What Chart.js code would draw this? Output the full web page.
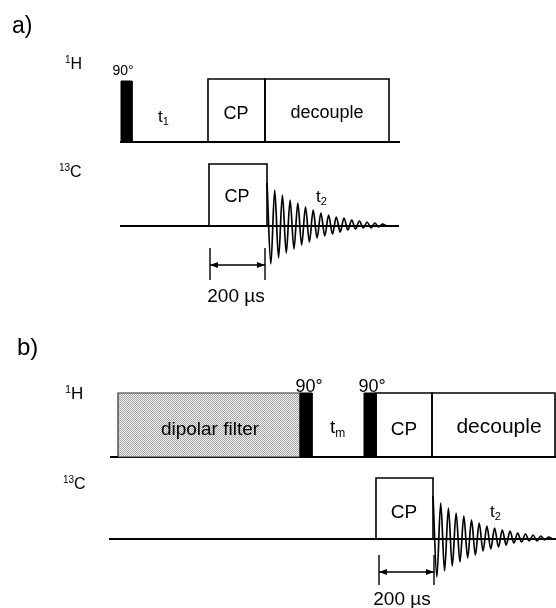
<!DOCTYPE html>
<html>
<head>
<meta charset="utf-8">
<script src="https://cdn.jsdelivr.net/npm/chart.js@4.4.0/dist/chart.umd.min.js"></script>
<style>
body{margin:0;background:#fff;}
#wrap{width:556px;height:608px;position:relative;}
</style>
</head>
<body>
<div id="wrap"><canvas id="sequence"></canvas></div>
<script>
//sequence a) : canal 1H puis 13C (debut, fin, haut)
var aH_base = 142;
var aH_line = [120, 400];
var aH_pulse = [121, 132, 81];
var aH_cp = [208, 265, 79];
var aH_dec = [265, 389, 79];
var aC_base = 226;
var aC_line = [120, 399];
var aC_cp = [209, 267, 164];
var aC_fid0 = 267;
var aArrow = [210, 265, 248, 280, 265];

//sequence b)
var bH_base = 457;
var bH_line = [110, 556];
var bH_filter = [118, 300, 393];
var bH_pulse1 = [300, 312, 393];
var bH_pulse2 = [364, 376, 393];
var bH_cp = [376, 432, 393];
var bH_dec = [432, 555, 393];
var bC_base = 539;
var bC_line = [109, 556];
var bC_cp = [376, 433, 478];
var bC_fid0 = 433;
var bArrow = [379, 434, 555, 585, 572];

//FID : sommets et creux
var fidAmp = [43, -38, 36, -32, 31, -27, 26, -23, 23, -19, 19, -16, 16, -12, 13, -10, 11, -8, 9, -6, 8, -4, 6, -3, 5, -2, 4, -2, 3, -1, 2, 0];
var fidStep = 3.85;

//textes : [texte, x, y(ligne de base), taille, alignement]
var labels = [
  ['a)', 12, 33, 23, 'left'],
  ['90°', 123, 75, 14, 'center'],
  ['CP', 236, 119, 18, 'center'],
  ['decouple', 327, 118, 18, 'center'],
  ['CP', 237, 202, 18, 'center'],
  ['200 µs', 236, 302, 19, 'center'],
  ['b)', 17, 355, 24, 'left'],
  ['dipolar filter', 210, 435, 19, 'center'],
  ['90°', 309, 392, 18, 'center'],
  ['90°', 372, 392, 18, 'center'],
  ['CP', 404, 435, 19, 'center'],
  ['decouple', 499, 433, 21, 'center'],
  ['CP', 404, 518, 19, 'center'],
  ['200 µs', 402, 605, 19, 'center']
];
//textes avec indice ou exposant : [principal, petit, x, y, taille, exposant?]
var subLabels = [
  ['H', '1', 65, 69, 16, true],
  ['C', '13', 59, 177, 16, true],
  ['t', '1', 158, 122, 17, false],
  ['t', '2', 316, 202, 17, false],
  ['H', '1', 65, 399, 17, true],
  ['t', 'm', 330, 433, 19, false],
  ['C', '13', 63, 489, 16, true],
  ['t', '2', 490, 517, 17, false]
];

var police = '"Liberation Sans", Arial, Helvetica, sans-serif';

function boite(r, base) {
  return [{x: r[0], y: base}, {x: r[0], y: r[2]}, {x: r[1], y: r[2]}, {x: r[1], y: base}];
}
function bloc(r, base) {
  return [{x: r[0], y: base}, {x: r[0], y: r[2]}, {x: r[1], y: r[2]}, {x: r[1], y: base}, {x: r[0], y: base}];
}
function ligne(l, base) {
  return [{x: l[0], y: base}, {x: l[1], y: base}];
}
function fid(x0, base) {
  var pts = [];
  for (var i = 0; i < fidAmp.length; i++) {
    pts.push({x: x0 + i * fidStep, y: base - fidAmp[i]});
  }
  return pts;
}
function fleche(a) {
  return [
    [{x: a[0], y: a[2]}, {x: a[0], y: a[3]}],
    [{x: a[1], y: a[2]}, {x: a[1], y: a[3]}],
    [{x: a[0], y: a[4]}, {x: a[1], y: a[4]}]
  ];
}

//motif gris pointille du filtre dipolaire
var motif = document.createElement('canvas');
motif.width = 2; motif.height = 2;
var mctx = motif.getContext('2d');
mctx.fillStyle = '#f2f2f2'; mctx.fillRect(0, 0, 2, 2);
mctx.fillStyle = '#a4a4a4'; mctx.fillRect(0, 0, 1, 1); mctx.fillRect(1, 1, 1, 1);
var gris = mctx.createPattern(motif, 'repeat');

var datasets = [];
function trait(data, w, extra) {
  var d = {data: data, borderColor: '#000', borderWidth: w, fill: false, pointRadius: 0, tension: 0};
  for (var k in extra) d[k] = extra[k];
  datasets.push(d);
}
//impulsions pleines
trait(bloc(aH_pulse, aH_base), 1, {fill: 'shape', backgroundColor: '#000'});
trait(bloc(bH_pulse1, bH_base), 1, {fill: 'shape', backgroundColor: '#000'});
trait(bloc(bH_pulse2, bH_base), 1, {fill: 'shape', backgroundColor: '#000'});
trait(bloc(bH_filter, bH_base), 1.2, {fill: 'shape', backgroundColor: gris, borderColor: '#333'});
//boites
trait(boite(aH_cp, aH_base), 1.6);
trait(boite(aH_dec, aH_base), 1.6);
trait(boite(aC_cp, aC_base), 1.6);
trait(boite(bH_cp, bH_base), 1.6);
trait(boite(bH_dec, bH_base), 1.6);
trait(boite(bC_cp, bC_base), 1.6);
//lignes de base
trait(ligne(aH_line, aH_base), 2);
trait(ligne(aC_line, aC_base), 2);
trait(ligne(bH_line, bH_base), 2);
trait(ligne(bC_line, bC_base), 2);
//FID
trait(fid(aC_fid0, aC_base), 1.7, {cubicInterpolationMode: 'monotone'});
trait(fid(bC_fid0, bC_base), 1.7, {cubicInterpolationMode: 'monotone'});
//fleches 200 us
fleche(aArrow).forEach(function(f) { trait(f, 1.4); });
fleche(bArrow).forEach(function(f) { trait(f, 1.4); });

var textes = {
  id: 'textes',
  afterDatasetsDraw: function(chart) {
    var ctx = chart.ctx, sx = chart.scales.x, sy = chart.scales.y;
    ctx.save();
    ctx.fillStyle = '#000';
    ctx.textBaseline = 'alphabetic';
    labels.forEach(function(l) {
      ctx.font = l[3] + 'px ' + police;
      ctx.textAlign = l[4];
      ctx.fillText(l[0], sx.getPixelForValue(l[1]), sy.getPixelForValue(l[2]));
    });
    ctx.textAlign = 'left';
    subLabels.forEach(function(s) {
      var x = sx.getPixelForValue(s[2]), y = sy.getPixelForValue(s[3]);
      var petit = Math.round(s[4] * 0.62);
      if (s[5]) {
        ctx.font = petit + 'px ' + police;
        ctx.fillText(s[1], x, y - s[4] * 0.38);
        var w = ctx.measureText(s[1]).width;
        ctx.font = s[4] + 'px ' + police;
        ctx.fillText(s[0], x + w, y);
      } else {
        ctx.font = s[4] + 'px ' + police;
        ctx.fillText(s[0], x, y);
        var w2 = ctx.measureText(s[0]).width;
        ctx.font = petit + 'px ' + police;
        ctx.fillText(s[1], x + w2, y + s[4] * 0.2);
      }
    });
    //pointes de fleches
    [aArrow, bArrow].forEach(function(a) {
      var x1 = sx.getPixelForValue(a[0]), x2 = sx.getPixelForValue(a[1]), y = sy.getPixelForValue(a[4]);
      ctx.beginPath();
      ctx.moveTo(x1, y); ctx.lineTo(x1 + 8, y - 3); ctx.lineTo(x1 + 8, y + 3); ctx.closePath();
      ctx.moveTo(x2, y); ctx.lineTo(x2 - 8, y - 3); ctx.lineTo(x2 - 8, y + 3); ctx.closePath();
      ctx.fill();
    });
    ctx.restore();
  }
};

var ctxS = document.getElementById('sequence').getContext('2d');
var chart = new Chart(ctxS, {
  type: 'line',
  data: {datasets: datasets},
  options: {
    responsive: true,
    maintainAspectRatio: false,
    animation: false,
    layout: {padding: 0},
    plugins: {legend: {display: false}, tooltip: {enabled: false}},
    scales: {
      x: {type: 'linear', min: 0, max: 556, display: false},
      y: {type: 'linear', min: 0, max: 608, reverse: true, display: false}
    }
  },
  plugins: [textes]
});
</script>
</body>
</html>
